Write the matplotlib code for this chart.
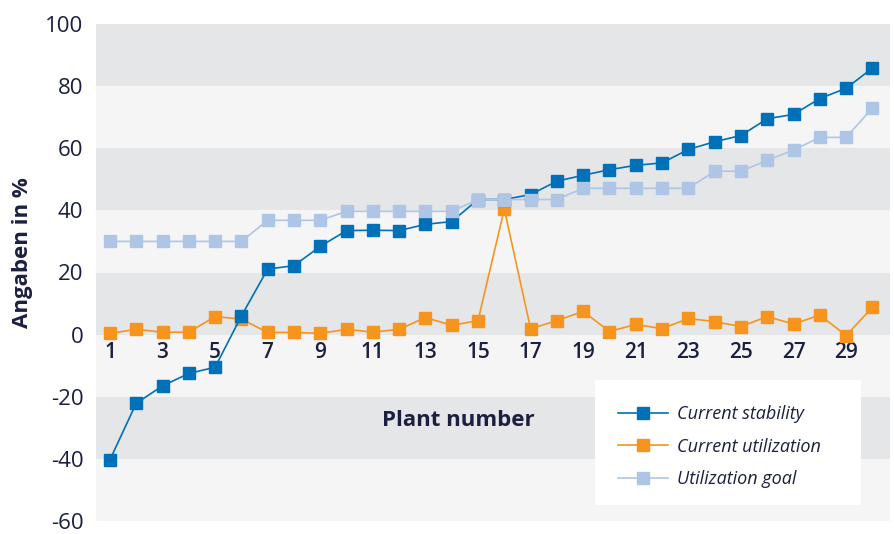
import matplotlib
matplotlib.use("Agg")
import matplotlib.pyplot as plt
from matplotlib.lines import Line2D
from matplotlib.patches import Rectangle

plants = list(range(1, 31))
stability = [-40.3, -22.1, -16.5, -12.5, -10.5, 6.0, 21.1, 22.2, 28.4, 33.5,
             33.6, 33.5, 35.5, 36.4, 43.5, 43.5, 45.1, 49.4, 51.3, 53.1,
             54.5, 55.3, 59.6, 62.1, 64.1, 69.5, 70.9, 76.0, 79.3, 85.8]
utilization = [0.4, 1.7, 0.8, 0.8, 5.8, 5.0, 0.7, 0.7, 0.4, 1.7,
               0.8, 1.7, 5.5, 3.0, 4.5, 40.4, 1.9, 4.5, 7.5, 1.0,
               3.3, 1.9, 5.2, 4.2, 2.6, 5.8, 3.4, 6.3, -0.3, 8.8]
goal = [30.0, 30.0, 30.0, 30.0, 30.0, 30.0, 36.8, 36.8, 36.8, 39.7,
        39.7, 39.7, 39.7, 39.7, 43.5, 43.5, 43.5, 43.5, 47.1, 47.1,
        47.1, 47.1, 47.1, 52.6, 52.6, 56.1, 59.4, 63.5, 63.5, 72.9]
series_labels = ["Current stability", "Current utilization", "Utilization goal"]
x_ticks = list(range(1, 30, 2))
y_ticks = list(range(-60, 101, 20))

TEXT = "#1b1f40"
C_STAB = "#0070b8"
C_UTIL = "#f7941d"
C_GOAL = "#aec5e6"
BAND_DARK = "#e5e6e8"
BAND_LIGHT = "#f5f5f5"

plt.rcParams['font.family'] = ['Open Sans', 'DejaVu Sans']

fig = plt.figure(figsize=(8.95, 5.34), dpi=100)
ax = fig.add_axes([96 / 895, 1 - 521 / 534, 794 / 895, 497 / 534])

ax.set_xlim(0.47, 30.67)
ax.set_ylim(-60, 100)

# horizontal bands
for i, lo in enumerate(range(80, -61, -20)):
    ax.axhspan(lo, lo + 20, color=BAND_DARK if i % 2 == 0 else BAND_LIGHT, lw=0, zorder=0)

ms = 8.6
lw = 1.2
ax.plot(plants, utilization, color=C_UTIL, marker='s', ms=ms, lw=lw, zorder=3)
ax.plot(plants, stability, color=C_STAB, marker='s', ms=ms, lw=lw, zorder=4)
ax.plot(plants, goal, color=C_GOAL, marker='s', ms=ms, lw=lw, zorder=5)

for s in ax.spines.values():
    s.set_visible(False)
ax.spines['bottom'].set_position(('data', 0))

ax.set_xticks(x_ticks)
ax.set_xticklabels([str(v) for v in x_ticks], fontsize=15, fontweight='semibold', color=TEXT)
ax.tick_params(axis='x', length=0, pad=5)
ax.set_yticks(y_ticks)
ax.set_yticklabels([str(v) for v in y_ticks], fontsize=16, color=TEXT)
ax.tick_params(axis='y', length=0, pad=9)

fig.text(23 / 895, 1 - 253 / 534, "Angaben in %", rotation=90, fontsize=16,
         fontweight='bold', color=TEXT, ha='center', va='center')
ax.text(0.456, 0.203, "Plant number", transform=ax.transAxes, fontsize=16,
        fontweight='bold', color=TEXT, ha='center', va='center', zorder=6)

# legend box
ax.add_patch(Rectangle((0.628, 0.032), 0.335, 0.252, transform=ax.transAxes,
                       facecolor='white', edgecolor='none', zorder=6))
handles = [Line2D([], [], color=c, marker='s', ms=ms, lw=lw) for c in (C_STAB, C_UTIL, C_GOAL)]
leg = ax.legend(handles, series_labels, loc='upper left',
                bbox_to_anchor=(0.657, 0.233), borderaxespad=0, borderpad=0,
                frameon=False, handlelength=2.8, handletextpad=0.5,
                labelspacing=0.8,
                prop={'style': 'italic', 'size': 13})
for t in leg.get_texts():
    t.set_color(TEXT)
leg.set_zorder(7)

fig.savefig("out.png", dpi=100, facecolor='white')
